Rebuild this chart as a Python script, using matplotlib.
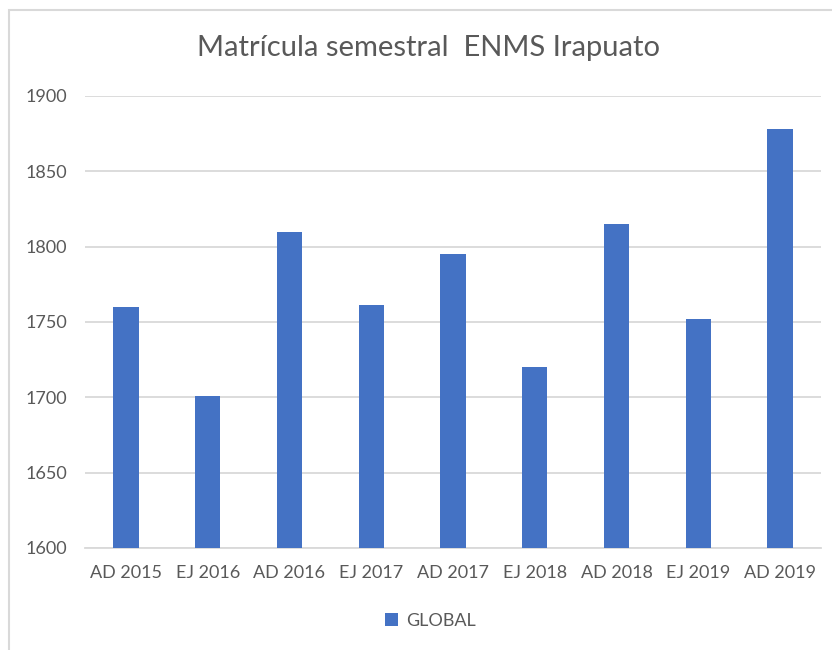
import matplotlib.pyplot as plt
from matplotlib.patches import Rectangle

periodos = ['AD 2015', 'EJ 2016', 'AD 2016', 'EJ 2017', 'AD 2017',
            'EJ 2018', 'AD 2018', 'EJ 2019', 'AD 2019']
matricula = [1760, 1701, 1810, 1761, 1795, 1720, 1815, 1752, 1878]
y_ticks = [1600, 1650, 1700, 1750, 1800, 1850, 1900]

gris = '#595959'
plt.rcParams['font.family'] = ['Lato', 'DejaVu Sans']

fig = plt.figure(figsize=(8.32, 6.5), dpi=100)
ax = fig.add_axes([85 / 832, 1 - 548 / 650, (821 - 85) / 832, (548 - 96) / 650])

ax.bar(range(len(periodos)), matricula, width=0.31, color='#4472C4',
       zorder=3, label='GLOBAL')
ax.set_xlim(-0.5, len(periodos) - 0.5)
ax.set_ylim(1600, 1900)
ax.set_yticks(y_ticks)
ax.set_xticks(range(len(periodos)))
ax.set_xticklabels(periodos)
ax.tick_params(axis='both', length=0, colors=gris, labelsize=13)
ax.tick_params(axis='x', pad=12)
ax.tick_params(axis='y', pad=13)
ax.grid(axis='y', color='#D9D9D9', linewidth=1.3, zorder=0)
for s in ['top', 'right', 'left']:
    ax.spines[s].set_visible(False)
ax.spines['bottom'].set_color('#D9D9D9')
ax.spines['bottom'].set_linewidth(1.3)

fig.text(0.515, 1 - 48 / 650, 'Matrícula semestral  ENMS Irapuato',
         ha='center', va='center', fontsize=21, color=gris)

fig.legend(loc='center', bbox_to_anchor=(0.517, 1 - 621 / 650), frameon=False,
           fontsize=13, labelcolor=gris, handlelength=0.75, handleheight=0.75,
           handletextpad=0.4)

# marco del grafico (solo se ven el borde superior e izquierdo)
fig.patches.append(Rectangle((9 / 832, -0.1), 1.2, 1.1 - 10 / 650,
                             transform=fig.transFigure, fill=False,
                             edgecolor='#D9D9D9', linewidth=1.5))

fig.savefig('out.png', dpi=100)
